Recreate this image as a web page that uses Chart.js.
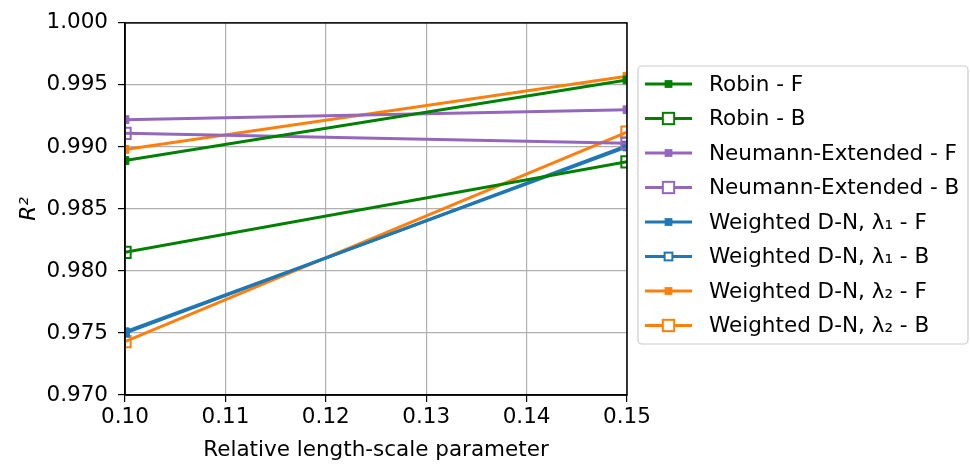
<!DOCTYPE html>
<html>
<head>
<meta charset="utf-8">
<script src="https://cdn.jsdelivr.net/npm/chart.js@4.4.0/dist/chart.umd.min.js"></script>
<style>
  html, body { margin: 0; background: #fff; }
  #wrap { width: 970px; height: 465px; }
</style>
</head>
<body>
<div id="wrap"><canvas id="chart" width="970" height="465"></canvas></div>
<script>
// relative length-scale parameter
const xValues = [0.10, 0.15];

// R^2 values, F = forward, B = backward
const robinF = [0.9889, 0.9954];
const robinB = [0.9815, 0.9888];
const neumannF = [0.9922, 0.9930];
const neumannB = [0.9911, 0.9903];
const weighted1F = [0.9751, 0.9900];
const weighted1B = [0.9750, 0.9901];
const weighted2F = [0.9898, 0.9957];
const weighted2B = [0.9743, 0.9912];

const seriesLabels = [
    'Robin - F', 'Robin - B',
    'Neumann-Extended - F', 'Neumann-Extended - B',
    'Weighted D-N, \u03bb\u2081 - F', 'Weighted D-N, \u03bb\u2081 - B',
    'Weighted D-N, \u03bb\u2082 - F', 'Weighted D-N, \u03bb\u2082 - B'
];
const xTicks = [0.10, 0.11, 0.12, 0.13, 0.14, 0.15];
const yTicks = [0.970, 0.975, 0.980, 0.985, 0.990, 0.995, 1.000];

const GREEN = '#008000', PURPLE = '#9467bd', BLUE = '#1f77b4', ORANGE = '#ff7f0e';
const FONT = 'DejaVu Sans';
const FSIZE = 21.5;

function toPoints(ys) {
    return xValues.map((x, i) => ({ x: x, y: ys[i] }));
}

// filled = small solid square, open = hollow square
function makeSet(label, ys, color, open, radius) {
    return {
        label: label,
        data: toPoints(ys),
        borderColor: color,
        backgroundColor: color,
        borderWidth: 3,
        pointStyle: 'rect',
        pointRadius: radius,
        pointHoverRadius: radius,
        pointBorderWidth: open ? 2 : 1,
        pointBorderColor: color,
        pointBackgroundColor: open ? 'rgba(0,0,0,0)' : color,
        tension: 0,
        _open: open
    };
}

const datasets = [
    makeSet(seriesLabels[0], robinF, GREEN, false, 5.5),
    makeSet(seriesLabels[1], robinB, GREEN, true, 8),
    makeSet(seriesLabels[2], neumannF, PURPLE, false, 5.5),
    makeSet(seriesLabels[3], neumannB, PURPLE, true, 8),
    makeSet(seriesLabels[4], weighted1F, BLUE, false, 5.5),
    makeSet(seriesLabels[5], weighted1B, BLUE, true, 5.5),
    makeSet(seriesLabels[6], weighted2F, ORANGE, false, 5.5),
    makeSet(seriesLabels[7], weighted2B, ORANGE, true, 8)
];

// matplotlib style frame: all four spines
const framePlugin = {
    id: 'frame',
    afterDatasetsDraw(chart) {
        const { ctx, chartArea: a } = chart;
        ctx.save();
        ctx.strokeStyle = '#000';
        ctx.lineWidth = 1.5;
        ctx.strokeRect(a.left, a.top, a.right - a.left, a.bottom - a.top);
        ctx.restore();
    }
};

// legend drawn by hand so each entry shows line + marker
const legendPlugin = {
    id: 'boxLegend',
    afterDraw(chart) {
        const ctx = chart.ctx;
        const bx = 638, by = 66, bw = 330, bh = 278;
        ctx.save();
        ctx.fillStyle = 'rgba(255,255,255,0.8)';
        ctx.strokeStyle = '#cccccc';
        ctx.lineWidth = 1.2;
        ctx.beginPath();
        ctx.roundRect(bx, by, bw, bh, 4);
        ctx.fill();
        ctx.stroke();

        chart.data.datasets.forEach((ds, i) => {
            const y = 84 + i * 34.5;
            const mx = 668.5;
            ctx.strokeStyle = ds.borderColor;
            ctx.lineWidth = 3;
            ctx.beginPath();
            ctx.moveTo(645, y);
            ctx.lineTo(692, y);
            ctx.stroke();
            const s = ds.pointRadius * Math.SQRT1_2;
            ctx.fillStyle = ds._open ? '#fff' : ds.borderColor;
            ctx.fillRect(mx - s, y - s, 2 * s, 2 * s);
            if (ds._open) {
                ctx.lineWidth = ds.pointBorderWidth;
                ctx.strokeRect(mx - s, y - s, 2 * s, 2 * s);
            }
            ctx.fillStyle = '#000';
            ctx.font = FSIZE + 'px "' + FONT + '"';
            ctx.textBaseline = 'middle';
            ctx.textAlign = 'left';
            ctx.fillText(ds.label, 709, y + 1);
        });
        ctx.restore();
    }
};

new Chart(document.getElementById('chart'), {
    type: 'line',
    data: { datasets: datasets },
    options: {
        responsive: false,
        animation: false,
        layout: { padding: { left: 0, right: 343, top: 17, bottom: 0 } },
        plugins: {
            legend: { display: false },
            tooltip: { enabled: false }
        },
        scales: {
            x: {
                type: 'linear',
                min: 0.10,
                max: 0.15,
                afterFit: s => { s.height = 70; },
                afterBuildTicks: s => { s.ticks = xTicks.map(v => ({ value: v })); },
                ticks: {
                    color: '#000',
                    padding: 3,
                    maxRotation: 0,
                    font: { family: FONT, size: FSIZE },
                    callback: v => Number(v).toFixed(2)
                },
                grid: { color: '#b0b0b0', lineWidth: 1.2, tickColor: '#000', tickLength: 7 },
                border: { color: '#000', width: 1.5 },
                title: {
                    display: true,
                    text: 'Relative length-scale parameter',
                    color: '#000',
                    font: { family: FONT, size: FSIZE },
                    padding: { top: 0, bottom: 2 }
                }
            },
            y: {
                min: 0.970,
                max: 1.000,
                afterFit: s => { s.width = 125; },
                afterBuildTicks: s => { s.ticks = yTicks.map(v => ({ value: v })); },
                ticks: {
                    color: '#000',
                    padding: 10,
                    font: { family: FONT, size: FSIZE },
                    callback: v => Number(v).toFixed(3)
                },
                grid: { color: '#b0b0b0', lineWidth: 1.2, tickColor: '#000', tickLength: 7 },
                border: { color: '#000', width: 1.5 },
                title: {
                    display: true,
                    text: 'R\u00b2',
                    color: '#000',
                    font: { family: FONT, size: FSIZE, style: 'italic' },
                    padding: { top: 17, bottom: 0 }
                }
            }
        }
    },
    plugins: [framePlugin, legendPlugin]
});
</script>
</body>
</html>
